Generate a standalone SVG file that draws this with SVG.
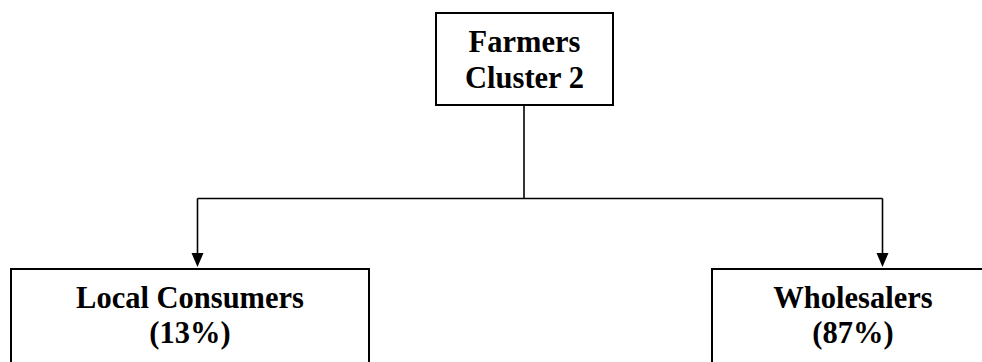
<svg xmlns="http://www.w3.org/2000/svg" width="982" height="362" viewBox="0 0 982 362">
<style>
.box{fill:#fff;stroke:#000;stroke-width:2}
.t{font-family:"Liberation Serif","Times New Roman",serif;font-weight:bold;font-size:30.5px;fill:#000;text-anchor:middle}
.c{fill:none;stroke:#000;stroke-width:1.6}
</style>
<defs>
<marker id="ah" markerWidth="12" markerHeight="14" refX="6" refY="14" orient="auto" markerUnits="userSpaceOnUse" viewBox="0 0 12 14">
<path d="M0,0 L12,0 L6,14 Z" fill="#000"/>
</marker>
</defs>
<rect width="982" height="362" fill="#fff"/>
<g id="connectors">
<path class="c" d="M524,105 V198.5"/>
<path class="c" d="M197.5,198.5 H882.5"/>
<path class="c" d="M197.5,198.5 V253" />
<path d="M191.5,253 L203.5,253 L197.5,267 Z" fill="#000"/>
<path class="c" d="M882.5,198.5 V253"/>
<path d="M876.5,253 L888.5,253 L882.5,267 Z" fill="#000"/>
</g>
<g id="farmers">
<rect class="box" x="436" y="13" width="177" height="92"/>
<text class="t" x="524.5" y="52">Farmers</text>
<text class="t" x="524.5" y="88">Cluster 2</text>
</g>
<g id="local">
<rect class="box" x="11" y="269" width="358" height="110"/>
<text class="t" x="190" y="308">Local Consumers</text>
<text class="t" x="190" y="343">(13%)</text>
</g>
<g id="wholesalers">
<rect class="box" x="712" y="269" width="282" height="110"/>
<text class="t" x="853" y="308">Wholesalers</text>
<text class="t" x="853" y="343">(87%)</text>
</g>
</svg>
